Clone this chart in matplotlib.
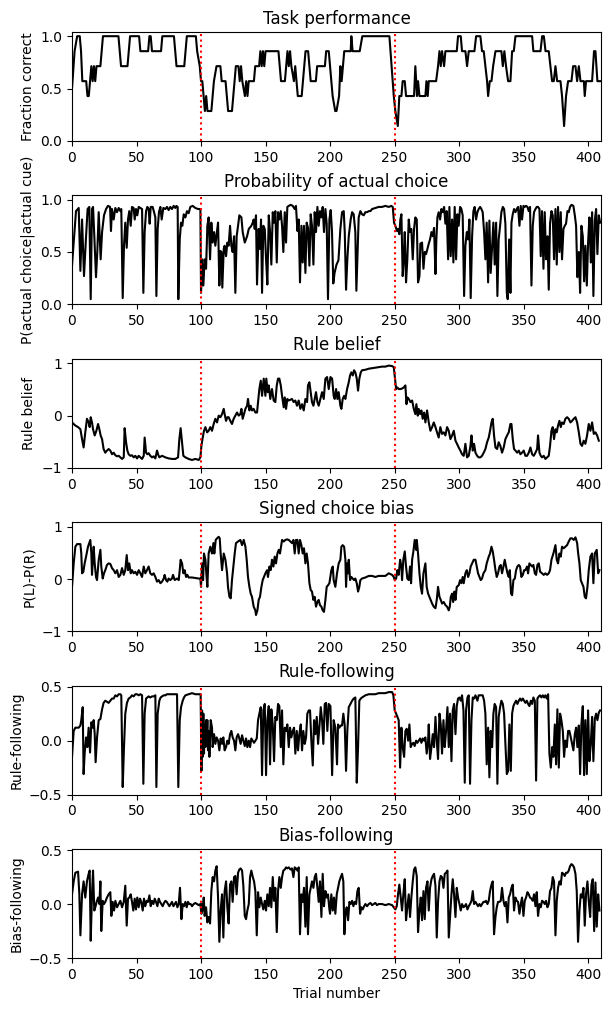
import matplotlib
matplotlib.use("Agg")
import matplotlib.pyplot as plt

# ---------------- data (trial, value) ----------------
perf_points = [(0,.5),(2,.857),(4,1),(6,1),(7,.857),(8,.571),(11,.571),(12,.429),(13,.429),(14,.571),(15,.714),(16,.571),
 (17,.714),(18,.571),(19,.714),(22,.714),(23,.857),(24,1),(36,1),(37,.857),(38,.714),(43,.714),(44,.857),(45,1),(52,1),
 (53,.857),(59,.857),(60,1),(61,1),(62,.857),(69,.857),(70,1),(79,1),(80,.857),(81,.714),(87,.714),(88,.857),(89,1),(96,1),
 (97,.857),(99,.714),(100,.571),(101,.571),(102,.429),(103,.286),(104,.429),(105,.286),(108,.286),(110,.571),(112,.714),
 (115,.714),(116,.571),(119,.571),(120,.429),(121,.286),(124,.286),(125,.429),(127,.714),(129,.714),(130,.571),(131,.714),
 (132,.571),(134,.429),(135,.571),(136,.429),(137,.571),(141,.571),(142,.714),(145,.714),(146,.857),(147,.714),(148,.857),
 (149,.714),(150,.857),(160,.857),(161,.714),(162,.571),(165,.571),(166,.714),(167,.857),(168,.714),(169,.857),(170,.714),
 (172,.571),(173,.714),(174,.571),(175,.429),(178,.429),(179,.571),(180,.714),(181,.857),(183,.857),(184,.714),(185,.571),
 (189,.571),(190,.714),(196,.714),(197,.857),(199,.857),(201,.571),(202,.429),(204,.286),(205,.286),(207,.429),(208,.714),
 (209,.571),(210,.714),(211,.857),(216,.857),(216.5,1),(217.5,.857),(223,.857),(225,1),(246,1),(249.4,.429),(250.6,.286),
 (252.5,.143),(253.7,.429),(255.3,.429),(256.3,.571),(257.9,.571),(258.9,.429),(265.1,.429),(266.1,.714),(267.4,.429),
 (268.2,.571),(269.3,.429),(273.9,.429),(274.7,.571),(275.7,.429),(276.5,.571),(282.2,.571),(283.7,.714),(284.8,.857),
 (285.8,.714),(286.8,.857),(288.4,.714),(289.4,.857),(298.2,.857),(299.2,1),(301.3,1),(302.3,.857),(304.9,.857),(306.2,.714),
 (307.5,.857),(311.9,.857),(313.2,1),(316.5,1),(317.8,.857),(319.1,.857),(320.4,.714),(321.7,.571),(322.5,.429),(323.8,.571),
 (325.1,.571),(326.4,.714),(328.2,.857),(332.8,.857),(333.9,.714),(335.1,.857),(336.4,.714),(338,.571),(339.8,.571),
 (341.1,.857),(342.4,.857),(343.7,1),(356.6,1),(357.6,.857),(363.1,.857),(364.4,1),(365.7,1),(367,.857),(369.5,.857),
 (370.8,.714),(372.1,.571),(373.4,.571),(374.7,.714),(376,.571),(378.6,.571),(379.8,.429),(381.4,.143),(382.9,.429),
 (384.5,.571),(387.1,.571),(388.4,.714),(390.2,.714),(391.5,.571),(392.8,.714),(394.1,.571),(396.7,.571),(397.4,.429),
 (398.4,.571),(403.1,.571),(404.6,.857),(405.7,.857),(407.2,.571),(409.5,.571)]

choice_points = [(0,.37),(3.1,.89),(5.2,.92),(6.5,.32),(7.8,.81),(9.3,.27),(10.9,.65),(12.1,.91),(13.4,.93),(14.5,.05),
 (15.5,.91),(16.3,.93),(17.3,.65),(18.6,.26),(19.6,.50),(20.7,.88),(22.2,.43),(23.3,.69),(24.8,.85),(26.4,.91),(27.9,.94),
 (29.5,.93),(30.2,.70),(31,.91),(32.3,.81),(33.6,.92),(34.9,.88),(36.2,.92),(37.5,.89),(38.2,.91),(39.3,.06),(40.3,.56),
 (41.3,.78),(42.4,.54),(43.4,.81),(44.4,.89),(45.5,.75),(46.5,.93),(47.8,.92),(48.6,.81),(49.6,.91),(50.6,.85),(51.7,.93),
 (53,.92),(54.3,.91),(55.3,.11),(56.3,.69),(57.4,.89),(58.4,.93),(59.4,.91),(60.2,.77),(61,.93),(62.5,.93),(63.6,.88),
 (64.6,.83),(65.4,.08),(66.4,.72),(67.4,.88),(68.5,.93),(69.5,.81),(70.8,.92),(72.4,.91),(73.6,.93),(74.9,.90),(76.2,.93),
 (77.5,.91),(78.8,.94),(80.1,.92),(80.9,.94),(81.9,.93),(82.4,.05),(83.5,.62),(84.5,.78),(85.5,.75),(86.6,.86),(87.9,.83),
 (89.1,.89),(90.4,.87),(91.7,.93),(93.5,.94),(95.6,.92),(97.7,.91),(99.5,.91),(100,.11),(100.8,.43),(101.8,.18),(102.8,.43),
 (103.9,.34),(104.9,.75),(105.9,.83),(107,.43),(108,.78),(109,.59),(110.1,.69),(111.1,.56),(112.1,.67),(113.2,.78),
 (114.2,.18),(115,.51),(115.8,.50),(116.5,.16),(117.6,.53),(118.3,.56),(119.4,.46),(120.4,.59),(121.4,.56),(122.5,.75),
 (123.5,.56),(124.5,.50),(125.6,.65),(126.6,.11),(127.6,.65),(128.7,.75),(129.7,.85),(131.3,.83),(132.3,.69),(133.9,.59),
 (135.7,.65),(137,.72),(139,.75),(140.1,.78),(140.8,.81),(141.6,.72),(142.6,.85),(143.4,.19),(144.7,.72),(145.5,.53),
 (146.5,.81),(147.3,.11),(148.3,.75),(149.4,.72),(150.4,.43),(151.4,.19),(152.5,.85),(153.5,.69),(154.5,.38),(155.6,.88),
 (156.6,.78),(157.6,.89),(158.7,.40),(159.7,.88),(160.7,.81),(161.8,.89),(162.8,.75),(163.8,.50),(164.9,.88),(165.9,.59),
 (166.9,.93),(168,.94),(169.5,.95),(171.1,.94),(172.6,.91),(173.6,.94),(174.7,.70),(175.7,.81),(176.7,.21),(177.8,.75),
 (178.8,.40),(179.8,.75),(180.9,.30),(181.9,.78),(182.9,.73),(184,.37),(185,.86),(186,.75),(187.1,.38),(188.1,.88),
 (189.1,.69),(190.2,.93),(191.2,.75),(192.2,.89),(193.3,.83),(194.3,.93),(195.3,.69),(196.4,.91),(197.4,.77),(198.4,.05),
 (199.5,.81),(200.5,.90),(201.5,.70),(202.5,.20),(203.5,.30),(205,.38),(206.5,.42),(208,.72),(209.3,.88),(210.6,.89),
 (211.4,.69),(212.4,.14),(213.4,.43),(214.5,.65),(216,.81),(217.1,.88),(218.3,.86),(219.6,.69),(220.4,.13),(221.2,.43),
 (222.2,.83),(223.5,.89),(224.8,.86),(226.1,.85),(227.4,.88),(228.7,.88),(230,.89),(231.3,.89),(232.6,.91),(235.1,.92),
 (237.7,.93),(240.3,.93),(242.9,.94),(245.5,.93),(247.5,.94),(248.6,.93),(249.6,.78),(250.6,.75),(251.9,.70),(252.7,.72),
 (253.7,.67),(254.5,.81),(255.3,.86),(256.3,.27),(257.1,.43),(257.9,.69),(258.9,.21),(259.9,.43),(261,.81),(262,.69),
 (263,.72),(264.1,.43),(265.1,.72),(266.1,.83),(267.2,.81),(268.2,.21),(269.3,.27),(270,.58),(271.3,.59),(272.4,.34),
 (273.4,.50),(274.4,.48),(275.5,.53),(276.5,.58),(277.5,.62),(278.6,.69),(279.6,.65),(280.6,.73),(281.7,.29),(282.4,.62),
 (283.2,.83),(284.2,.88),(285.3,.81),(286.3,.91),(287.3,.88),(288.4,.93),(289.4,.77),(290.4,.89),(291.5,.43),(292.5,.93),
 (293.5,.46),(294.6,.81),(295.6,.40),(296.6,.93),(297.7,.43),(298.7,.86),(299.7,.75),(300.8,.93),(301.8,.91),(302.8,.85),
 (303.9,.08),(304.9,.56),(306,.69),(307,.62),(308,.81),(309,.06),(310.1,.65),(311.1,.89),(312.1,.93),(313.2,.81),
 (314.2,.88),(315.2,.91),(316.3,.93),(317.3,.91),(318.3,.88),(319.4,.69),(320.4,.43),(321.4,.78),(322.5,.21),(323.5,.80),
 (324.5,.30),(325.6,.56),(326.6,.78),(327.6,.38),(328.7,.78),(329.7,.08),(330.7,.62),(331.8,.75),(332.8,.88),(333.9,.93),
 (334.9,.91),(335.9,.77),(337,.11),(337.7,.05),(338.8,.62),(339.8,.11),(340.6,.78),(341.6,.86),(342.6,.91),(343.7,.88),
 (344.7,.91),(345.7,.93),(346.8,.75),(347.8,.94),(348.8,.81),(349.9,.94),(350.9,.93),(351.9,.94),(353,.93),(354,.89),
 (355,.93),(356.1,.18),(357.1,.75),(358.1,.88),(359.2,.91),(360.2,.93),(361.2,.93),(362.3,.91),(363.3,.46),(364.3,.89),
 (365.4,.34),(366.4,.88),(367.4,.43),(368.5,.65),(369.5,.14),(370.5,.77),(371.6,.89),(372.6,.85),(373.6,.43),(374.7,.91),
 (375.7,.38),(376.7,.93),(377.8,.50),(378.8,.88),(379.8,.43),(380.9,.72),(381.9,.75),(382.9,.77),(384,.89),(385,.88),
 (386,.93),(387.1,.95),(388.6,.94),(389.7,.85),(390.7,.75),(391.7,.26),(392.8,.50),(393.8,.11),(394.8,.75),(395.9,.65),
 (396.9,.22),(397.9,.56),(399,.18),(400,.59),(401,.83),(402.1,.40),(403.1,.88),(404.1,.08),(405.2,.80),(406.2,.91),
 (407.2,.48),(408.3,.85),(409.3,.78)]

belief_points = [(0,-.13),(1.3,-.16),(2.6,-.19),(4.7,-.22),(6.5,-.26),(7.8,-.45),(9,-.61),(10.3,-.32),(11.6,-.06),
 (12.9,-.13),(13.7,-.22),(14.5,-.03),(15.5,-.13),(16.3,-.26),(17.6,-.38),(18.9,-.29),(20.2,-.16),(21.2,-.26),(22.2,-.38),
 (23.3,-.45),(24.5,-.64),(25.8,-.71),(27.1,-.67),(28.4,-.64),(29.7,-.67),(31,-.74),(32.3,-.71),(33.6,-.76),(34.9,-.78),
 (36.2,-.77),(37.5,-.80),(38.8,-.83),(40.1,-.80),(40.8,-.24),(41.9,-.51),(42.9,-.67),(43.9,-.74),(45.2,-.77),(46.5,-.76),
 (47.8,-.80),(49.1,-.77),(50.4,-.82),(51.7,-.77),(53,-.80),(54.3,-.83),(55.6,-.77),(56.3,-.42),(57.4,-.71),(58.4,-.74),
 (59.4,-.72),(60.7,-.77),(62,-.80),(63.3,-.78),(64.6,-.82),(65.9,-.67),(66.7,-.74),(67.7,-.80),(69.8,-.77),(72.4,-.80),
 (74.9,-.82),(77.5,-.83),(80.1,-.83),(82.2,-.80),(83.2,-.45),(84.2,-.24),(85.3,-.51),(86.3,-.77),(87.9,-.80),(90.4,-.83),
 (93,-.85),(95.6,-.83),(98.2,-.85),(99.5,-.80),(100.3,-.58),(101.3,-.42),(102.3,-.29),(103.4,-.22),(104.7,-.32),
 (105.9,-.29),(107.2,-.22),(108.5,-.29),(109.8,-.16),(111.1,-.06),(112.4,-.13),(113.7,0),(115,-.03),(116.3,.03),
 (117.6,.13),(118.3,.03),(119.4,-.10),(120.4,-.03),(121.4,-.03),(122.7,-.10),(124,-.16),(125.3,-.06),(126.6,0),(127.9,.06),
 (129.2,0),(130.5,.03),(131.3,.13),(132.3,-.06),(133.3,.03),(134.4,.13),(135.7,.19),(136.4,.32),(137.5,.10),(138.5,.19),
 (139.5,.10),(140.8,.13),(142.1,.06),(143.4,.06),(144.2,.26),(145.2,.51),(146.3,.67),(147.3,.38),(148.6,.71),(149.9,.38),
 (150.6,.71),(151.7,.45),(152.5,.58),(153.7,.32),(155,.51),(156.3,.29),(157.6,.26),(158.7,.58),(159.7,.71),(160.7,.71),
 (161.8,.58),(162.8,.38),(164.1,.16),(164.9,.35),(165.9,.13),(166.9,.32),(168,.29),(170.5,.32),(171.8,.26),(173.1,.29),
 (174.4,.19),(175.7,.29),(177,.13),(178.3,.22),(179.6,.10),(180.9,.32),(182.2,.26),(182.9,.58),(184,.64),(185,.45),
 (186,.26),(187.1,.19),(188.1,.32),(189.1,.45),(190.2,.26),(191.2,.19),(192.5,.32),(193.8,.45),(195.1,.32),(196.4,.71),
 (197.7,.74),(199,.51),(200.3,.74),(201.6,.71),(202.8,.38),(203.6,.32),(204.7,.51),(205.7,.32),(206.7,.45),(208,.19),
 (208.8,.13),(209.8,.32),(210.9,.38),(211.9,.32),(213.2,.51),(214.5,.64),(215.5,.77),(216.5,.83),(217.6,.77),(218.6,.87),
 (219.6,.83),(220.7,.71),(221.7,.48),(222.7,.71),(223.8,.83),(224.8,.87),(227.4,.88),(230,.90),(232.6,.91),(235.1,.92),
 (237.7,.93),(240.3,.94),(242.9,.94),(245.5,.96),(248.1,.95),(249.4,.93),(250.1,.77),(251.2,.51),(252.2,.54),(253.2,.51),
 (254.5,.51),(255.8,.52),(257.1,.54),(258.4,.58),(259.2,.22),(259.9,.35),(261,.32),(262.3,.26),(263.6,.29),(264.9,.13),
 (266.1,.03),(266.9,.22),(268,0),(268.7,.13),(269.8,.03),(270.8,.10),(271.8,-.06),(272.9,.06),(273.9,-.13),(275.2,.10),
 (276.5,-.13),(277.8,-.29),(279.1,-.22),(280.4,-.13),(281.7,-.22),(282.9,-.32),(284.2,-.42),(285.5,-.22),(286.8,-.35),
 (288.1,-.32),(289.4,-.38),(290.7,-.22),(292,-.29),(293.3,-.45),(294.6,-.38),(295.9,-.29),(297.2,-.48),(298.4,-.54),
 (299.7,-.61),(301,-.67),(302.3,-.74),(303.6,-.77),(304.9,-.54),(306.2,-.80),(307.5,-.77),(308.8,-.58),(309.6,-.38),
 (310.6,-.67),(311.6,-.54),(312.7,-.71),(314,-.77),(315.2,-.80),(316.5,-.80),(317.8,-.77),(319.1,-.71),(320.4,-.64),
 (321.7,-.51),(323,-.42),(324,-.29),(325.1,-.13),(326.1,-.06),(327.1,-.38),(328.2,-.61),(329.5,-.64),(330.7,-.51),
 (332,-.58),(333.3,-.71),(334.6,-.61),(335.9,-.45),(337.2,-.38),(338.5,-.32),(339.8,-.16),(340.6,-.16),(341.6,-.45),
 (342.6,-.64),(343.7,-.67),(345,-.71),(346.3,-.67),(347.5,-.74),(348.8,-.71),(350.1,-.67),(351.4,-.77),(352.7,-.77),
 (354,-.71),(355.3,-.61),(356.6,-.74),(357.9,-.77),(359.2,-.71),(360.5,-.64),(361.2,-.38),(362.3,-.71),(363.3,-.77),
 (364.3,-.80),(365.6,-.77),(366.9,-.83),(368.2,-.80),(369.5,-.77),(370.5,-.58),(371.6,-.29),(372.6,-.22),(373.6,-.45),
 (374.7,-.26),(375.7,-.32),(376.7,-.19),(377.8,-.10),(378.8,-.22),(379.8,-.13),(381.1,-.16),(382.4,-.06),(383.7,-.03),
 (385,-.06),(386.3,-.13),(387.6,-.10),(388.9,-.06),(390.2,-.03),(391.5,-.13),(392.8,-.32),(394.1,-.54),(395.3,-.58),
 (396.6,-.48),(397.9,-.54),(399.2,-.38),(400.5,-.16),(401.8,-.29),(403.1,-.13),(404.4,-.35),(405.7,-.32),(407,-.38),
 (408.3,-.48)]

bias_points = [(0,-.15),(1.3,.30),(2.6,.62),(3.9,.67),(6.5,.67),(7.2,.49),(7.8,.11),(8.8,.14),(9.8,.30),(10.9,.43),
 (12.4,.62),(14.2,.75),(15,.49),(15.5,.08),(16.8,.62),(17.6,.30),(18.6,.04),(19.4,-.02),(20.7,.37),(22,.56),(22.7,.24),
 (23.8,.01),(24.8,.11),(25.8,.17),(27.1,.27),(28.4,.30),(29.7,.29),(31,.21),(32.3,.17),(33.6,.11),(34.9,.17),(36.2,.04),
 (37.5,.08),(38.8,.21),(40.1,.08),(41.3,.17),(42.4,.46),(43.4,.17),(44.4,.30),(45.5,.11),(46.5,.17),(47.8,.11),(49.1,.14),
 (50.4,.08),(51.7,.17),(53,.11),(54.3,.04),(55.6,.24),(56.8,.11),(58.1,.17),(59.4,.24),(60.7,.11),(62,.08),(63.3,.11),
 (64.6,.04),(65.9,-.05),(67.2,-.02),(68.5,-.08),(69.8,-.05),(71.1,.01),(71.8,.08),(72.9,-.02),(73.9,-.05),(74.9,.01),
 (76.2,-.02),(77.5,.01),(78.3,.08),(79.6,-.02),(81.4,.01),(82.7,-.02),(83.5,.17),(84.2,.37),(85.3,.30),(86.3,.11),
 (87.3,.17),(88.4,.04),(89.4,.08),(90.4,.03),(93,.03),(95.6,.02),(98.2,.01),(99.5,.01),(100,-.15),(100.8,.30),(101.6,-.02),
 (102.3,.49),(103.4,.37),(104.1,.11),(104.9,-.15),(105.9,.49),(107.2,.62),(108.5,.49),(109.6,.69),(110.3,.49),(111.4,.75),
 (112.4,.78),(113.7,.81),(114.5,.78),(115.2,.49),(116.3,.17),(117.6,.49),(118.9,.37),(120.2,.11),(120.9,-.15),(122,-.34),
 (123,-.37),(124,-.02),(125.1,.24),(126.1,.49),(127.1,.69),(128.7,.72),(130.5,.75),(131.8,.65),(133.1,.75),(134.4,.62),
 (135.4,.37),(136.4,.04),(137.5,-.15),(138.5,-.28),(139.5,-.34),(140.8,-.53),(142.1,-.60),(142.6,-.69),(143.7,-.60),
 (144.7,-.40),(145.7,-.34),(146.8,-.15),(147.8,-.02),(148.8,.04),(149.9,.11),(151.2,.17),(151.9,.04),(153,.24),(154,.17),
 (155,.37),(156.1,.24),(157.1,.43),(158.1,.30),(159.2,.49),(160.2,.56),(161.2,.49),(162.8,.75),(164.1,.72),(165.4,.75),
 (166.7,.76),(168,.75),(169.3,.72),(170.5,.69),(171.6,.75),(172.6,.49),(173.6,.75),(174.7,.75),(175.7,.49),(176.7,.75),
 (177.8,.65),(178.8,.49),(179.8,.59),(180.9,.30),(181.9,.49),(182.9,.30),(184,-.08),(185,-.21),(186,-.24),(187.1,-.40),
 (188.1,-.34),(189.1,-.53),(190.2,-.44),(191.2,-.40),(192.2,-.50),(193.3,-.53),(194.3,-.60),(195.3,-.63),(196.4,-.40),
 (197.4,-.15),(198.4,-.12),(199.5,-.08),(201,.17),(202.1,.24),(202.8,-.02),(204.1,-.15),(205.4,.11),(206.7,.30),(208,.37),
 (208.8,.62),(209.8,.65),(210.9,.62),(211.9,.37),(212.4,-.15),(213.2,.30),(214,.11),(214.5,.37),(215.5,-.02),(216.5,.04),
 (217.6,.01),(218.6,-.02),(219.6,.01),(220.7,-.08),(221.7,-.24),(222.7,-.15),(223.5,-.02),(224.8,.01),(227.4,.03),
 (230,.06),(232.6,.06),(235.1,.04),(237.7,.06),(240.3,.06),(242.9,.06),(245.5,.11),(248.1,.08),(249.4,.04),(250.1,-.02),
 (251.2,.01),(252.2,.17),(253.2,.08),(254.3,.37),(255.3,.24),(255.8,-.02),(256.8,.37),(257.9,.53),(258.9,.24),(259.9,.01),
 (261,-.02),(262,.24),(262.8,-.08),(263.6,.37),(264.6,.53),(265.6,.75),(266.7,.56),(267.2,.75),(268.2,.49),(269.3,.11),
 (270.3,-.15),(271.3,-.28),(272.4,.11),(273.9,.30),(274.9,-.15),(276,-.28),(277,-.34),(278,-.40),(279.1,-.47),(280.4,-.53),
 (281.7,-.56),(282.7,-.40),(283.7,-.15),(284.8,-.34),(285.8,-.40),(286.8,-.47),(288.1,-.44),(289.4,-.50),(290.7,-.53),
 (292,-.60),(292.8,-.53),(293.6,-.34),(294.6,-.28),(295.4,-.44),(296.4,-.24),(297.2,-.40),(298.2,-.15),(299.7,-.12),
 (300.8,-.02),(301.8,-.08),(302.8,.04),(303.6,-.08),(304.9,.11),(306,.17),(307,.04),(308,.11),(309,.24),(310.1,.30),
 (311.4,.37),(312.7,.37),(313.7,.24),(314.7,.11),(315.8,.04),(316.8,-.02),(317.8,.01),(318.9,.11),(320.4,.17),(321.4,.30),
 (323,.43),(324,.49),(325.1,.62),(326.1,.53),(327.1,.37),(328.2,.17),(329.2,.04),(330.2,.11),(331.3,.24),(332.3,.27),
 (333.3,.11),(334.4,.24),(335.4,.37),(336.4,.24),(337.5,.11),(338.5,.04),(339.3,.17),(340.3,-.28),(341.1,-.31),(342.1,-.02),
 (343.2,.01),(344.2,.17),(345.2,.24),(346.3,.27),(347.3,.24),(348.3,.04),(349.4,.08),(350.4,.17),(351.4,.17),(352.7,.24),
 (353.5,.11),(354.5,.30),(355.6,.27),(356.6,.24),(357.6,.27),(358.7,.11),(359.7,.08),(360.7,.27),(361.8,.30),(362.8,.14),
 (364.3,.11),(365.6,.08),(366.9,.11),(368.2,.08),(369.5,.11),(370.5,.17),(371.6,.37),(373.1,.49),(374.7,.65),(375.7,.37),
 (376.7,.30),(377.8,.49),(378.8,.43),(379.8,.62),(381.1,.59),(382.4,.62),(383.7,.65),(385,.72),(386.3,.78),(387.6,.78),
 (388.9,.75),(390.2,.80),(391.5,.69),(392.3,.49),(393.3,.30),(394.3,-.02),(395.3,-.08),(396.4,-.15),(397.4,-.34),
 (398.4,-.37),(399.5,-.15),(400.5,.17),(401.8,.43),(403.1,.49),(404.1,-.08),(405.2,.49),(406.7,.56),(407.8,.11),(408.8,.17)]

rule_points = [(0,-.15),(1.3,.09),(2.6,.12),(5.2,.12),(6.5,.14),(7.2,.19),(8.3,.31),(9,-.31),(9.8,-.12),(10.9,.03),
 (11.9,-.06),(12.9,.12),(14,-.11),(15,.17),(16,.12),(16.8,.19),(17.6,.06),(18.3,-.20),(19.4,.03),(20.7,.19),(22,.20),
 (23.3,.29),(24.5,.35),(25.8,.37),(27.1,.36),(28.4,.35),(29.7,.37),(31,.39),(32.3,.39),(33.6,.42),(34.9,.41),(36.2,.43),
 (37.5,.43),(38.2,.42),(39.3,-.43),(40.3,-.06),(41.3,.25),(42.6,.35),(43.9,.39),(45.2,.40),(46.5,.42),(47.8,.41),(49.1,.43),
 (50.4,.43),(51.7,.42),(53,.43),(54.3,.42),(55.3,-.40),(56.3,.25),(57.4,.39),(58.4,.40),(59.4,.41),(60.7,.40),(62,.41),
 (63.3,.41),(64.6,.42),(65.4,-.43),(66.4,.25),(67.7,.37),(68.7,.40),(69.8,.41),(71.1,.42),(72.4,.42),(73.6,.43),(74.9,.43),
 (76.2,.43),(77.5,.43),(78.8,.43),(80.1,.43),(81.4,.43),(82.4,-.43),(83.5,.19),(84.5,.31),(85.8,.37),(86.8,.40),(87.9,.42),
 (90.4,.43),(93,.44),(95.6,.43),(98.2,.43),(99.7,.43),(100.3,-.28),(100.8,.28),(101.3,-.15),(101.8,.25),(102.3,-.12),
 (102.8,.15),(103.4,-.06),(103.9,.19),(104.4,0),(104.9,.19),(105.4,-.09),(105.9,.09),(106.5,-.15),(107.5,.19),(108.5,.12),
 (109,-.06),(110.1,.06),(111.1,-.03),(112.1,.03),(113.2,0),(114.2,-.09),(115.2,.02),(116.3,-.03),(117.3,.03),(118.3,-.09),
 (119.4,-.06),(120.4,0),(121.4,-.03),(122.5,.06),(123.5,.09),(124.5,.03),(125.6,0),(126.6,-.09),(127.6,.03),(128.7,.06),
 (129.7,.02),(130.7,-.03),(131.8,.05),(132.8,0),(133.9,-.05),(134.9,.02),(135.9,-.06),(137,0),(138,-.06),(139,.02),(140.1,0),
 (141.1,-.02),(142.1,0),(143.2,.02),(144.2,.19),(145.2,.25),(146.3,.31),(147.3,-.32),(148.3,.28),(149.4,.34),(150.4,-.32),
 (151.4,.19),(152.5,.32),(153.5,-.22),(154.5,.29),(155.6,.15),(156.6,-.19),(157.6,.22),(158.7,.19),(159.7,.34),(160.7,.32),
 (161.8,-.06),(162.8,.28),(163.8,-.22),(164.9,.12),(165.9,.09),(166.9,.15),(168,-.06),(169,.12),(170,.03),(171.1,.09),
 (172.1,.12),(173.1,-.12),(174.2,.09),(175.2,-.09),(176.2,.06),(177.3,.15),(178.3,-.09),(179.3,.09),(180.4,-.03),
 (181.4,.03),(182.4,.25),(183.5,.28),(184.5,.28),(185.5,0),(186.6,-.23),(187.6,.19),(188.6,.06),(189.7,.22),(190.7,-.03),
 (191.7,.12),(192.8,.31),(193.8,.19),(194.8,-.03),(195.9,.34),(196.9,.35),(197.9,.09),(199,.34),(200.3,.32),(201.6,-.32),
 (202.8,.19),(204.1,.12),(205.4,-.22),(206.2,.15),(207.2,.12),(208.3,.14),(209.3,.14),(210.3,.25),(211.4,.14),(212.4,-.28),
 (213.4,.09),(214.5,.31),(215.8,.34),(217.1,.37),(218.3,.39),(219.6,.40),(220.7,-.39),(221.7,-.06),(222.7,.37),(223.8,.39),
 (224.8,.40),(227.4,.42),(230,.43),(232.6,.43),(235.1,.43),(237.7,.44),(240.3,.44),(242.9,.44),(245.5,.45),(248.1,.45),
 (249.1,.42),(250.1,.28),(251.2,.25),(252.2,.22),(253.2,.19),(254.3,-.25),(255.3,.12),(256.3,-.06),(257.4,-.15),(258.4,.09),
 (259.4,.11),(260.5,0),(261.5,.15),(262.5,-.06),(263.6,-.03),(264.6,-.02),(265.6,-.05),(266.7,0),(267.7,-.02),(268.7,0),
 (269.8,.02),(270.8,-.02),(271.8,.02),(272.9,0),(273.9,.03),(274.9,-.12),(276,0),(276.5,.15),(277.5,-.17),(278.6,-.06),
 (279.6,.06),(280.6,-.06),(281.7,.22),(282.7,0),(283.7,-.17),(284.8,.25),(285.8,.15),(286.8,-.12),(287.9,.19),(288.9,-.06),
 (289.9,.09),(291,.31),(292,-.06),(293,.25),(294.1,-.19),(295.1,.28),(296.1,.34),(297.2,.06),(298.2,.32),(299.2,.39),
 (300.3,.40),(301.3,.37),(302.3,.42),(303.4,.28),(304.4,-.39),(305.4,.28),(306.5,.40),(307.5,.42),(308.5,-.40),(309.6,.19),
 (310.6,.40),(311.6,.39),(312.7,.42),(314.2,.37),(315.2,.42),(316.8,.42),(318.3,.42),(319.4,.37),(320.4,.25),(321.4,-.22),
 (322.5,.12),(323.5,-.34),(324.5,.09),(325.6,-.06),(326.6,.25),(327.6,.34),(328.7,.31),(329.7,-.40),(330.7,.22),(331.8,.31),
 (332.8,.37),(333.9,.34),(334.9,.25),(335.9,-.03),(337,-.31),(338,-.28),(339,.15),(340.1,-.28),(341.1,.25),(342.1,.32),
 (343.2,.35),(344.2,.37),(345.2,.34),(346.3,.37),(347.3,.39),(348.3,.37),(349.4,.39),(350.4,.37),(351.4,.35),(352.5,.37),
 (353.5,.34),(354.5,.32),(355.6,.37),(356.6,.34),(357.6,.40),(358.7,.37),(359.7,-.37),(360.7,.39),(361.8,.41),(362.8,.42),
 (363.8,.40),(364.9,.42),(365.9,.40),(366.9,.42),(368,.39),(369,.43),(370,-.12),(371.1,-.25),(372.1,-.06),(373.1,-.15),
 (374.2,.15),(375.2,-.22),(376.2,.29),(377.3,-.25),(378.3,.25),(379.3,.19),(380.4,.09),(381.4,-.15),(382.4,0),(383.5,-.06),
 (384.5,.09),(385.5,.09),(386.6,.03),(387.6,-.03),(388.6,-.09),(389.7,.06),(390.7,.12),(391.7,-.06),(392.8,.14),(393.8,-.31),
 (394.8,.15),(395.9,.32),(396.9,-.32),(397.9,.19),(399,-.31),(400,.28),(401,-.19),(402.1,-.03),(403.1,.22),(404.1,-.19),
 (405.2,.20),(406.2,.25),(407.2,.19),(408.3,.26),(409.3,.28)]

biasfol_points = [(0,.09),(1.3,.21),(2.6,.29),(4.7,.30),(5.7,.09),(6.5,-.29),(7.8,.09),(9,.21),(10.3,.06),(11.6,.21),
 (12.9,.28),(13.7,.31),(14.5,-.34),(15.5,.09),(16.3,.31),(17.3,-.06),(18.3,-.02),(19.1,.02),(20.2,.06),(21.2,0),(22,.21),
 (22.7,-.25),(23.8,.03),(24.8,0),(25.8,.02),(27.1,.06),(28.4,.09),(29.7,.11),(30.5,-.11),(31.5,.02),(32.6,-.06),(33.6,.03),
 (34.9,-.03),(36.2,0),(37.5,.03),(38.8,-.03),(40.1,.02),(41.3,.17),(42.4,-.20),(43.4,.05),(44.4,.06),(45.5,.09),(46.5,.02),
 (47.5,-.06),(48.6,.05),(49.6,-.05),(50.6,.06),(51.7,-.03),(52.7,.05),(53.7,.02),(54.8,-.06),(55.8,.05),(56.8,-.02),
 (57.9,.03),(58.9,.02),(60,.08),(61,-.02),(62,.03),(63.1,0),(64.1,.05),(65.1,.02),(66.2,-.02),(67.2,.05),(68.2,.02),(69.3,0),
 (70.3,-.02),(71.3,.01),(72.4,.03),(73.4,.02),(74.4,0),(75.5,-.02),(76.5,0),(77.5,.02),(78.6,-.02),(79.6,0),(80.6,.02),
 (81.7,-.03),(82.7,0),(83.7,.15),(84.8,-.14),(85.8,0),(86.8,-.02),(87.9,.02),(88.9,-.03),(89.9,.02),(91,0),(92,0),(93,-.02),
 (94.3,0),(95.6,.01),(96.9,0),(98.2,-.01),(99.5,0),(100.3,-.09),(100.8,0),(101.3,-.06),(102.1,.06),(102.8,-.11),(103.9,-.03),
 (104.9,-.17),(105.9,-.12),(107,-.18),(108,.12),(109,.25),(110.1,.21),(111.1,.31),(112.1,.35),(113.2,.06),(114.2,-.35),
 (115.2,-.06),(116.3,.09),(117.3,-.31),(118.3,.12),(119.4,.21),(120.4,-.03),(121.4,-.18),(122.5,.18),(123.5,.21),(124.5,.02),
 (125.6,.25),(126.6,.26),(127.6,.09),(128.7,.29),(129.7,.32),(130.7,.33),(131.8,.31),(132.8,.17),(133.9,-.11),(134.9,-.14),
 (135.9,-.06),(137,0),(138,.25),(139,.31),(140.1,.25),(141.1,.21),(142.1,.12),(143.2,-.29),(144.2,.11),(145.2,-.03),
 (146.3,.06),(147.3,0),(148.3,-.05),(149.4,.03),(150.4,-.06),(151.4,.09),(152.5,-.02),(153.5,.15),(154.5,-.03),(155.6,.25),
 (156.6,.03),(157.6,.15),(158.7,-.26),(159.7,.12),(160.7,.25),(161.8,.15),(162.8,.25),(163.8,.31),(164.9,.32),(165.9,.34),
 (166.9,.33),(168,.34),(169.3,.32),(170.5,.33),(171.6,.25),(172.6,.34),(173.6,.33),(174.7,.31),(175.7,.34),(176.7,-.28),
 (177.8,.09),(178.8,.02),(179.8,.15),(180.9,-.21),(181.9,.25),(182.9,-.28),(184,.09),(185,.15),(186,.21),(187.1,.15),
 (188.1,.25),(189.1,.28),(190.2,.15),(191.2,.02),(192.2,.21),(193.3,-.12),(194.3,.28),(195.3,-.02),(196.4,.12),(197.4,.06),
 (198.4,.09),(199.5,-.05),(200,-.09),(201,.09),(202.1,-.06),(203.1,.06),(204.1,-.09),(205.2,.09),(206.2,.15),(207.2,.21),
 (208.3,.25),(209.3,.28),(210.3,.21),(211.1,-.28),(211.9,-.09),(212.9,-.03),(214,-.15),(215,.02),(216,0),(217.1,.03),
 (218.1,-.02),(219.1,.02),(220.2,0),(221.2,.12),(222.2,.15),(223.3,-.09),(224.3,-.03),(225.3,-.05),(226.4,-.02),(227.4,0),
 (228.7,-.02),(230,0),(231.3,.01),(232.6,-.01),(233.9,0),(235.1,.01),(236.4,-.01),(237.7,0),(240.3,0),(242.9,-.01),
 (245.5,0),(248.1,-.01),(249.4,-.03),(250.6,-.05),(251.7,-.02),(252.7,.09),(253.7,.18),(254.8,.06),(255.8,-.06),(256.8,.09),
 (257.9,.23),(258.9,-.15),(259.9,-.03),(261,.09),(262,-.12),(263,.06),(264.1,.21),(265.1,.32),(266.1,.34),(267.2,.26),
 (268.2,-.26),(269.3,-.06),(270.3,.06),(271.3,-.15),(272.4,.12),(273.4,-.14),(274.4,.15),(275.5,.21),(276.5,-.06),
 (277.5,.15),(278.6,.23),(279.6,.26),(280.6,.28),(281.7,.17),(282.7,-.31),(283.7,.02),(284.8,.21),(285.8,.26),(286.8,.25),
 (287.9,.15),(288.9,.28),(289.9,.29),(291,.31),(292,-.31),(293,-.12),(294.1,.09),(295.1,.23),(296.1,.09),(297.2,-.12),
 (298.2,.15),(299.2,.06),(300.3,0),(301.3,-.06),(302.3,0),(303.4,-.03),(304.4,-.02),(305.4,0),(306.5,-.05),(307.5,-.02),
 (308.5,0),(309.6,.03),(310.6,.12),(311.6,0),(312.7,.02),(313.7,0),(314.7,-.02),(315.8,0),(316.8,-.02),(317.8,0),
 (318.9,.02),(319.9,.02),(320.9,.03),(322,0),(323,.03),(324,.12),(325.1,.18),(326.1,.21),(327.1,-.28),(328.2,-.12),
 (329.2,-.03),(330.2,.02),(331.3,.02),(332.3,.03),(333.3,.15),(334.4,.03),(335.4,-.02),(336.4,.02),(337.5,-.17),(338.5,.06),
 (339.5,.09),(340.6,.15),(341.6,.18),(342.6,-.06),(343.7,.06),(344.7,.03),(345.7,.02),(346.8,-.09),(347.8,0),(348.8,.06),
 (349.9,-.11),(350.9,.03),(351.9,.06),(353,.11),(354,.09),(355,.06),(356.1,.05),(357.1,.03),(358.1,.09),(359.2,-.02),
 (360.2,.11),(361.2,-.11),(362.3,0),(363.3,-.03),(364.3,.03),(365.4,.02),(366.4,0),(367.4,.03),(368.5,-.03),(369.5,0),
 (370.5,.12),(371.6,.15),(372.6,.25),(373.6,.21),(374.7,-.29),(375.7,.03),(376.7,.15),(377.8,.21),(378.8,.18),(379.8,.29),
 (380.9,.28),(381.9,.26),(382.9,.29),(384,.29),(385,.31),(386,.35),(387.1,.37),(388.1,.36),(389.1,.34),(390.2,.28),
 (391.2,.12),(392.2,-.35),(393.3,-.06),(394.3,.09),(395.3,.06),(396.4,.15),(397.4,-.20),(398.4,.09),(399.5,.21),(400.5,.03),
 (401.6,-.12),(402.6,.18),(403.6,.23),(404.7,-.25),(405.7,.20),(406.7,-.21),(407.8,.09),(408.8,-.06)]

titles = ["Task performance", "Probability of actual choice", "Rule belief",
          "Signed choice bias", "Rule-following", "Bias-following"]
ylabels = ["Fraction correct", "P(actual choice|actual cue)", "Rule belief",
           "P(L)-P(R)", "Rule-following", "Bias-following"]
ylims = [(0, 1.04), (0, 1.04), (-1, 1.09), (-1, 1.09), (-0.5, 0.51), (-0.5, 0.51)]
yticks = [[0, 0.5, 1], [0, 0.5, 1], [-1, 0, 1], [-1, 0, 1], [-0.5, 0, 0.5], [-0.5, 0, 0.5]]
switch_trials = [100, 250]
xticks = [0, 50, 100, 150, 200, 250, 300, 350, 400]

series = [perf_points, choice_points, belief_points, bias_points, rule_points, biasfol_points]

W, H = 611, 1011
fig = plt.figure(figsize=(W / 100, H / 100), dpi=100)
for i, pts in enumerate(series):
    top = 32 + i * 163.4
    ax = fig.add_axes([72 / W, 1 - (top + 109) / H, 529 / W, 109 / H])
    tr = [p[0] for p in pts]
    va = [p[1] for p in pts]
    ax.plot(tr, va, color="black", lw=1.5)
    for s in switch_trials:
        ax.axvline(s, color="red", ls=":", lw=1.5)
    ax.set_xlim(0, 410)
    ax.set_ylim(*ylims[i])
    ax.set_yticks(yticks[i])
    ax.set_xticks(xticks)
    ax.set_title(titles[i], fontsize=12)
    ax.set_ylabel(ylabels[i], fontsize=10)
    if i == len(series) - 1:
        ax.set_xlabel("Trial number", fontsize=10)

fig.savefig("out.png", dpi=100)
